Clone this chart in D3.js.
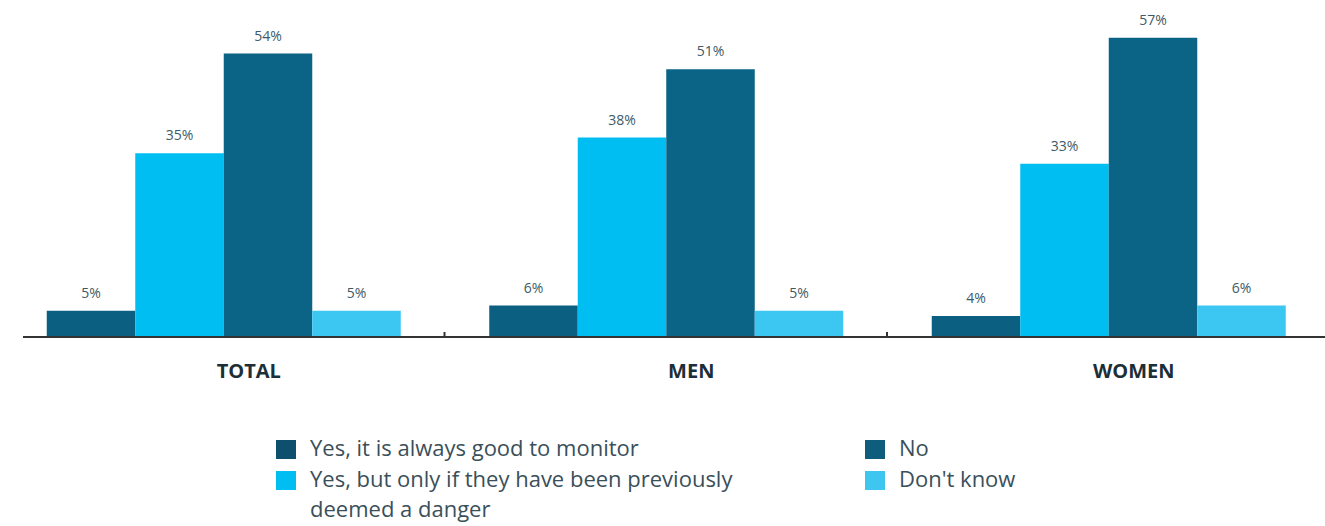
<!DOCTYPE html>
<html>
<head>
<meta charset="utf-8">
<script src="https://cdn.jsdelivr.net/npm/d3@7"></script>
<style>
  body { margin: 0; background: #fff; }
  text { font-family: "Open Sans", sans-serif; }
</style>
</head>
<body>
<div id="chart"></div>
<script>
// Data
const groups = ["TOTAL", "MEN", "WOMEN"]
const series = [
  "Yes, it is always good to monitor",
  "Yes, but only if they have been previously deemed a danger",
  "No",
  "Don't know"
]
const valuesTotal = [5, 35, 54, 5]
const valuesMen = [6, 38, 51, 5]
const valuesWomen = [4, 33, 57, 6]
const allValues = [valuesTotal, valuesMen, valuesWomen]

const colors = ["#0b5f80", "#00bef2", "#0b6485", "#3cc7f2"]
const legendColors = ["#0d4f6c", "#00bdf2", "#0e5d7c", "#3ec6f1"]

// Sizes
const width = 1325
const height = 526
const baseY = 337

const svg = d3.select("#chart")
  .append("svg")
  .attr("width", width)
  .attr("height", height)

// Scales
const x0 = d3.scaleBand().domain(groups).range([2.5, 1330])
const x1 = d3.scaleBand().domain(series).range([0, x0.bandwidth()])
  .paddingInner(0).paddingOuter(0.5)
const y = d3.scaleLinear().domain([0, 60]).range([baseY, baseY - 315])

const rows = groups.map((g, i) => ({
  group: g,
  items: series.map((s, j) => ({ series: s, value: allValues[i][j], idx: j }))
}))

// Bars
const gGroups = svg.selectAll(".grp")
  .data(rows)
  .join("g")
  .attr("class", "grp")
  .attr("transform", (d) => `translate(${x0(d.group)},0)`)

gGroups.selectAll("rect")
  .data((d) => d.items)
  .join("rect")
  .attr("x", (d) => x1(d.series))
  .attr("width", x1.bandwidth())
  .attr("y", (d) => y(d.value))
  .attr("height", (d) => baseY - y(d.value))
  .attr("fill", (d) => colors[d.idx])

// Value labels
gGroups.selectAll(".val")
  .data((d) => d.items)
  .join("text")
  .attr("class", "val")
  .attr("x", (d) => x1(d.series) + x1.bandwidth() / 2)
  .attr("y", (d) => y(d.value) - 13)
  .attr("text-anchor", "middle")
  .attr("font-size", 14)
  .attr("fill", "#3d5a68")
  .text((d) => d.value + "%")

// Category labels (sit a bit right of the group centre, as in the original)
const xaxis = d3.axisBottom(x0).tickSize(0).tickPadding(27).tickSizeOuter(0)
const gAxis = svg.append("g")
  .attr("transform", `translate(0,${baseY})`)
  .call(xaxis)
gAxis.select(".domain").remove()
gAxis.selectAll("text")
  .attr("dx", 25)
  .attr("font-size", 20)
  .attr("font-weight", 700)
  .attr("fill", "#1c2f38")
  .attr("font-family", "'Open Sans', sans-serif")

// Baseline
svg.append("line")
  .attr("x1", 23).attr("x2", width)
  .attr("y1", baseY).attr("y2", baseY)
  .attr("stroke", "#333")
  .attr("stroke-width", 2)

// small separators between groups
svg.selectAll(".sep")
  .data(groups.slice(1))
  .join("line")
  .attr("class", "sep")
  .attr("x1", (d) => x0(d) - 0.5)
  .attr("x2", (d) => x0(d) - 0.5)
  .attr("y1", baseY - 5)
  .attr("y2", baseY)
  .attr("stroke", "#333")
  .attr("stroke-width", 2)

// Legend
const legendPos = [
  { x: 276, y: 440 },
  { x: 276, y: 471 },
  { x: 865, y: 440 },
  { x: 865, y: 471 }
]
const legendLines = [
  ["Yes, it is always good to monitor"],
  ["Yes, but only if they have been previously", "deemed a danger"],
  ["No"],
  ["Don't know"]
]

const leg = svg.selectAll(".leg")
  .data(series)
  .join("g")
  .attr("class", "leg")
  .attr("transform", (d, i) => `translate(${legendPos[i].x},${legendPos[i].y})`)

leg.append("rect")
  .attr("width", 20)
  .attr("height", 19)
  .attr("fill", (d, i) => legendColors[i])

leg.append("text")
  .attr("y", 16)
  .attr("font-size", 22)
  .attr("fill", "#3a4f5a")
  .selectAll("tspan")
  .data((d, i) => legendLines[i])
  .join("tspan")
  .attr("x", 34)
  .attr("dy", (d, i) => (i === 0 ? 0 : 30))
  .text((d) => d)
</script>
</body>
</html>
